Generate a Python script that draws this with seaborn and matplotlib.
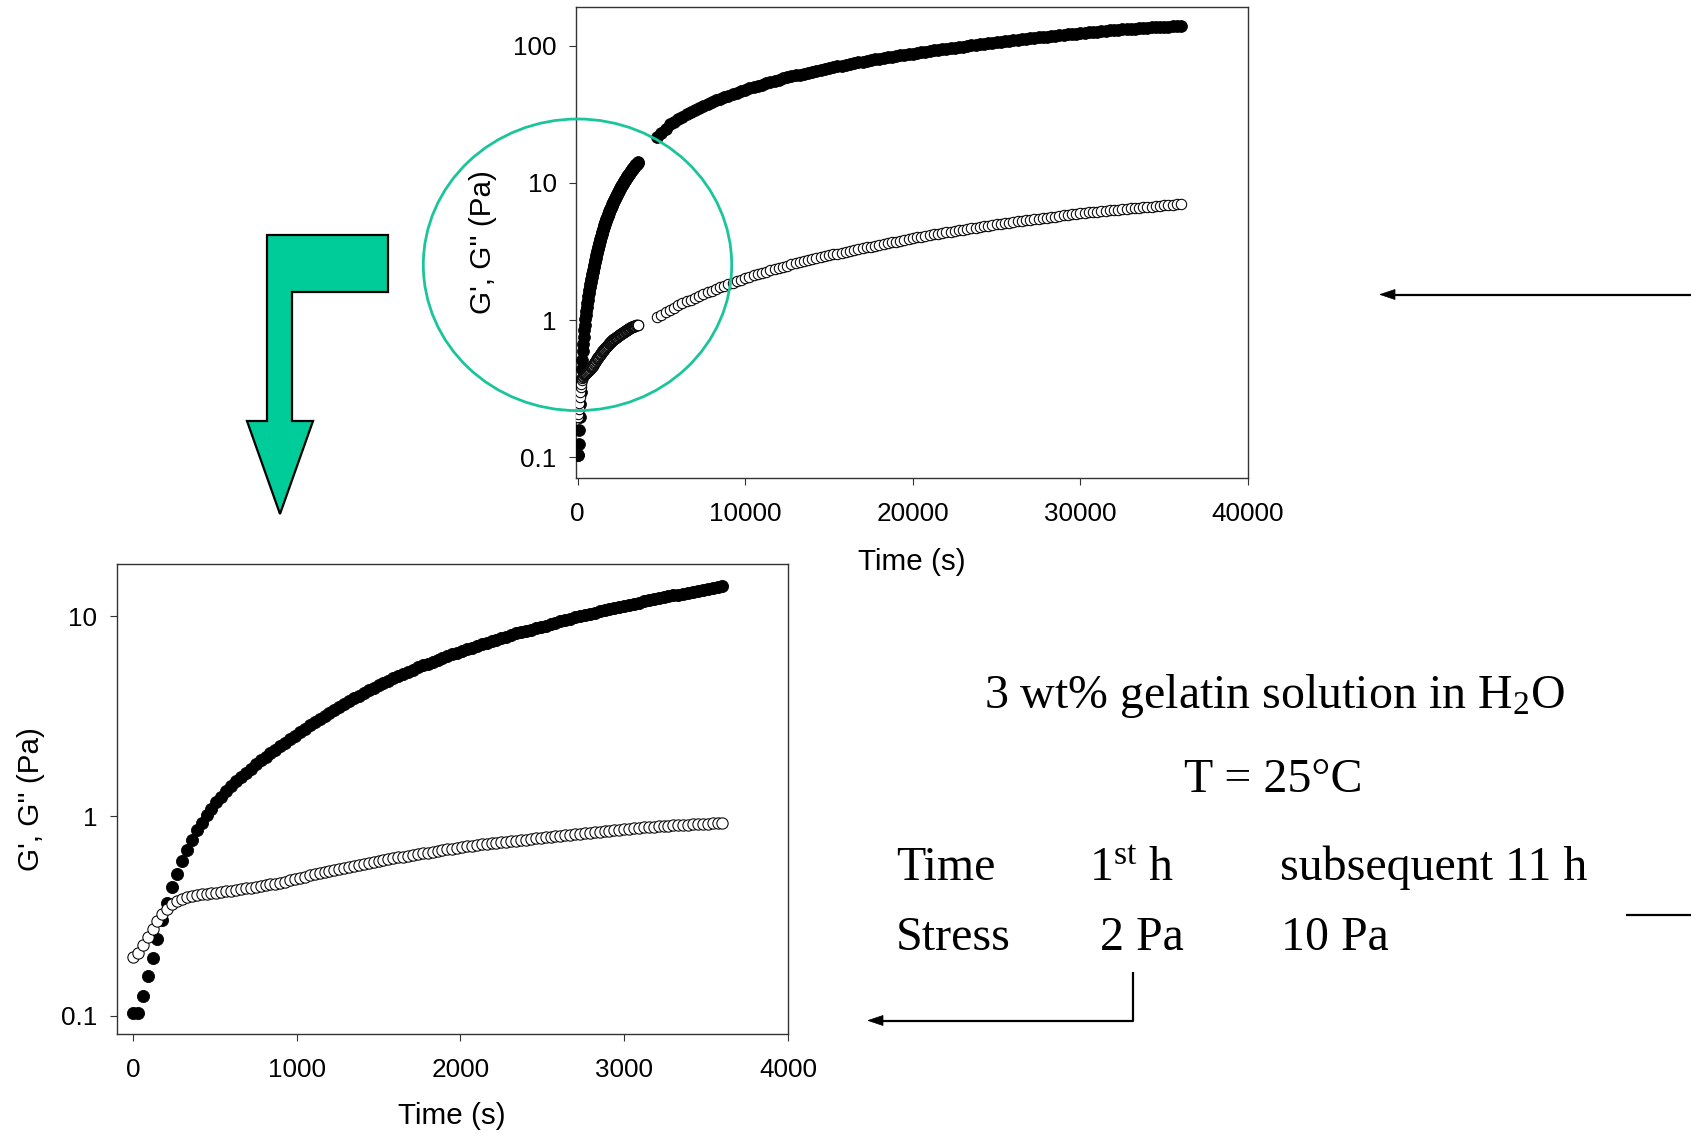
import matplotlib
matplotlib.use("Agg")
import matplotlib.pyplot as plt
import pandas as pd
import seaborn as sns
from matplotlib.patches import Ellipse, Polygon
from matplotlib.lines import Line2D
from matplotlib.ticker import FixedLocator, FixedFormatter, NullLocator

# ---------------- data ----------------
# first hour (stress 2 Pa)
time_first = [
    0, 30, 60, 90, 120, 150, 180, 210, 240, 270,
    300, 330, 360, 390, 420, 450, 480, 510, 540, 570,
    600, 630, 660, 690, 720, 750, 780, 810, 840, 870,
    900, 930, 960, 990, 1020, 1050, 1080, 1110, 1140, 1170,
    1200, 1230, 1260, 1290, 1320, 1350, 1380, 1410, 1440, 1470,
    1500, 1530, 1560, 1590, 1620, 1650, 1680, 1710, 1740, 1770,
    1800, 1830, 1860, 1890, 1920, 1950, 1980, 2010, 2040, 2070,
    2100, 2130, 2160, 2190, 2220, 2250, 2280, 2310, 2340, 2370,
    2400, 2430, 2460, 2490, 2520, 2550, 2580, 2610, 2640, 2670,
    2700, 2730, 2760, 2790, 2820, 2850, 2880, 2910, 2940, 2970,
    3000, 3030, 3060, 3090, 3120, 3150, 3180, 3210, 3240, 3270,
    3300, 3330, 3360, 3390, 3420, 3450, 3480, 3510, 3540, 3570,
    3600]
g_storage_first = [
    0.103, 0.103, 0.125, 0.158, 0.195, 0.243, 0.300, 0.368, 0.441, 0.510,
    0.595, 0.673, 0.756, 0.848, 0.927, 1.01, 1.09, 1.17, 1.25, 1.33,
    1.41, 1.49, 1.57, 1.65, 1.73, 1.82, 1.90, 1.98, 2.07, 2.15,
    2.24,
    2.33, 2.43, 2.53, 2.63, 2.74, 2.85,
    2.96, 3.07, 3.18, 3.29, 3.40, 3.53, 3.66,
    3.78, 3.89, 4.01, 4.13, 4.26, 4.40, 4.53,
    4.65, 4.76, 4.90, 5.02, 5.15, 5.28, 5.42,
    5.55, 5.68, 5.78, 5.93, 6.07, 6.21,
    6.35, 6.47, 6.59, 6.71, 6.84, 6.97, 7.11,
    7.24, 7.38, 7.52, 7.66, 7.78, 7.93, 8.07,
    8.22, 8.34, 8.47, 8.59, 8.73, 8.87, 8.99,
    9.14, 9.29, 9.44, 9.59, 9.73, 9.89, 10.05,
    10.19, 10.30, 10.45, 10.59, 10.72, 10.86,
    11.02, 11.17, 11.30, 11.43, 11.59, 11.72, 11.89,
    12.02, 12.16, 12.30, 12.45, 12.59, 12.74, 12.85,
    13.00, 13.12, 13.27, 13.43, 13.55, 13.71, 13.84, 14.00, 14.16]
g_loss_first = [
    0.196, 0.207, 0.225, 0.247, 0.273, 0.298, 0.325, 0.343, 0.363, 0.376,
    0.385, 0.392, 0.397, 0.402, 0.406, 0.408, 0.411, 0.414, 0.417, 0.420,
    0.423, 0.426, 0.430, 0.434, 0.438, 0.442, 0.447, 0.451, 0.455, 0.459,
    0.463,
    0.470, 0.478, 0.484, 0.491, 0.498, 0.505, 0.512, 0.519, 0.525, 0.531,
    0.538, 0.545, 0.551, 0.557, 0.564, 0.570, 0.577, 0.583, 0.590, 0.597,
    0.604, 0.610, 0.615, 0.621, 0.627, 0.632, 0.638, 0.644, 0.650, 0.656,
    0.662, 0.668, 0.675, 0.681, 0.687, 0.693, 0.698, 0.705, 0.711, 0.716,
    0.723, 0.726, 0.731, 0.735, 0.740, 0.743, 0.748, 0.752, 0.757, 0.762,
    0.767, 0.773, 0.778, 0.783, 0.789, 0.793, 0.798, 0.802, 0.805, 0.811,
    0.815, 0.818, 0.824, 0.828, 0.834, 0.838, 0.843, 0.847, 0.853, 0.857,
    0.863, 0.867, 0.873, 0.877, 0.881, 0.885, 0.887, 0.891, 0.893, 0.897,
    0.900, 0.904, 0.906, 0.908, 0.912, 0.914, 0.916, 0.920, 0.923, 0.927]

# subsequent 11 h (stress 10 Pa)
time_later = [
    4750, 5000, 5250, 5500, 5750, 6000, 6250, 6500, 6750, 7000,
    7250, 7500, 7750, 8000, 8250, 8500, 8750, 9000, 9250, 9500,
    9750, 10000, 10250, 10500, 10750, 11000, 11250, 11500, 11750, 12000,
    12250, 12500, 12750, 13000, 13250, 13500, 13750, 14000, 14250, 14500,
    14750, 15000, 15250, 15500, 15750, 16000, 16250, 16500, 16750, 17000,
    17250, 17500, 17750, 18000, 18250, 18500, 18750, 19000, 19250, 19500,
    19750, 20000, 20250, 20500, 20750, 21000, 21250, 21500, 21750, 22000,
    22250, 22500, 22750, 23000, 23250, 23500, 23750, 24000, 24250, 24500,
    24750, 25000, 25250, 25500, 25750, 26000, 26250, 26500, 26750, 27000,
    27250, 27500, 27750, 28000, 28250, 28500, 28750, 29000, 29250, 29500,
    29750, 30000, 30250, 30500, 30750, 31000, 31250, 31500, 31750, 32000,
    32250, 32500, 32750, 33000, 33250, 33500, 33750, 34000, 34250, 34500,
    34750, 35000, 35250, 35500, 35750, 36000]
g_storage_later = [
    21.6, 23.2, 24.8, 26.7, 28.0, 29.2, 30.5, 31.7, 32.9, 34.0,
    35.3, 36.5, 37.6, 38.8, 40.0, 41.1, 42.2, 43.3, 44.3, 45.4,
    46.6, 47.8, 49.0, 50.1, 51.2, 52.2, 53.3, 54.3, 55.5, 56.6,
    57.8, 58.9, 59.8, 60.8, 61.8, 62.8, 63.8, 64.9, 65.9, 66.8,
    67.8, 68.9, 69.8, 70.8, 71.8, 72.8, 73.8, 74.8, 75.7, 76.7,
    77.6, 78.7, 79.6, 80.5, 81.7, 82.4, 83.4, 84.3, 85.1, 86.1,
    87.1, 87.9, 88.9, 89.7, 90.8, 91.6, 92.5, 93.3, 94.4, 95.3,
    96.2, 97.1, 97.9, 98.9, 99.8, 100.7, 101.6, 102.6, 103.5, 104.5,
    105.4, 106.2, 107.2, 108.1, 108.9, 109.9, 110.9, 111.7, 112.5, 113.5,
    114.3, 115.3, 116.1, 116.9, 118.0, 118.9, 119.7, 120.5, 121.3, 122.2,
    123.0, 123.9, 124.7, 125.3, 126.2, 127.1, 127.9, 128.8, 129.4, 130.3,
    131.2, 131.8, 132.4, 133.0, 133.7, 134.3, 134.9, 135.5, 136.1, 136.5,
    137.1, 137.7, 138.0, 138.7, 139.0, 139.6]
g_loss_later = [
    1.05, 1.09, 1.14, 1.18, 1.23, 1.28, 1.33, 1.37, 1.41, 1.46,
    1.50, 1.54, 1.59, 1.64, 1.69, 1.73, 1.78, 1.82, 1.87, 1.92,
    1.97, 2.02, 2.07, 2.12, 2.16, 2.21, 2.25, 2.31, 2.36, 2.40,
    2.45, 2.50, 2.55, 2.59, 2.64, 2.69, 2.73, 2.78, 2.83, 2.88,
    2.92, 2.96, 3.01, 3.05, 3.10, 3.16, 3.20, 3.25, 3.30, 3.34,
    3.39, 3.44, 3.48, 3.54, 3.59, 3.64, 3.69, 3.74, 3.79, 3.85,
    3.91, 3.96, 4.02, 4.06, 4.11, 4.17, 4.22, 4.27, 4.32, 4.37,
    4.42, 4.47, 4.52, 4.57, 4.62, 4.68, 4.73, 4.79, 4.84, 4.89,
    4.93, 4.98, 5.04, 5.08, 5.13, 5.18, 5.24, 5.28, 5.33, 5.38,
    5.43, 5.48, 5.53, 5.58, 5.64, 5.69, 5.74, 5.79, 5.83, 5.89,
    5.94, 6.00, 6.05, 6.10, 6.14, 6.18, 6.22, 6.27, 6.31, 6.35,
    6.40, 6.44, 6.47, 6.52, 6.56, 6.59, 6.64, 6.67, 6.71, 6.76,
    6.81, 6.85, 6.90, 6.95, 7.00, 7.05]

top_xticks = [0, 10000, 20000, 30000, 40000]
top_yticks = [0.1, 1, 10, 100]
top_ytick_labels = ["0.1", "1", "10", "100"]
bottom_xticks = [0, 1000, 2000, 3000, 4000]
bottom_yticks = [0.1, 1, 10]
bottom_ytick_labels = ["0.1", "1", "10"]
x_label = "Time (s)"
y_label = "G', G'' (Pa)"

# ---------------- style ----------------
sns.set_style("ticks")
plt.rcParams["font.family"] = ["Liberation Sans", "DejaVu Sans"]
plt.rcParams["text.color"] = "black"
plt.rcParams["axes.labelcolor"] = "black"
plt.rcParams["mathtext.fontset"] = "custom"
plt.rcParams["mathtext.rm"] = "Liberation Serif"
plt.rcParams["mathtext.it"] = "Liberation Serif:italic"

W, H = 1691, 1134
fig = plt.figure(figsize=(W / 100, H / 100), dpi=100)
fig.patch.set_facecolor("white")


def fx(x):
    return x / W


def fy(y):
    return 1 - y / H


df_first = pd.DataFrame({"t": time_first, "Gp": g_storage_first, "Gpp": g_loss_first})
df_later = pd.DataFrame({"t": time_later, "Gp": g_storage_later, "Gpp": g_loss_later})
df_all = pd.concat([df_first, df_later], ignore_index=True)

spine_col = "#333333"


def style_axes(ax, xlim, ylim, xticks, yticks, ylabels, xlab_pos, ylab_pos):
    ax.set_yscale("log")
    ax.set_xlim(*xlim)
    ax.set_ylim(*ylim)
    ax.xaxis.set_major_locator(FixedLocator(xticks))
    ax.xaxis.set_major_formatter(FixedFormatter([str(v) for v in xticks]))
    ax.yaxis.set_major_locator(FixedLocator(yticks))
    ax.yaxis.set_major_formatter(FixedFormatter(ylabels))
    ax.xaxis.set_minor_locator(NullLocator())
    ax.yaxis.set_minor_locator(NullLocator())
    for s in ax.spines.values():
        s.set_visible(True)
        s.set_color(spine_col)
        s.set_linewidth(1.0)
    ax.tick_params(axis="both", which="major", direction="out", length=5,
                   width=0.8, color=spine_col, labelsize=18.8, labelcolor="black",
                   top=False, right=False, bottom=True, left=True)
    ax.tick_params(axis="x", pad=12)
    ax.tick_params(axis="y", pad=9)
    ax.set_xlabel(x_label, fontsize=21.3, color="black")
    ax.set_ylabel(y_label, fontsize=21.3, color="black")
    ax.xaxis.set_label_coords(*xlab_pos)
    ax.yaxis.set_label_coords(*ylab_pos)
    ax.set_facecolor("white")


# ---------------- top chart (12 h) ----------------
ax_top = fig.add_axes([fx(576), fy(478), (1248 - 576) / W, (478 - 7) / H])
sns.scatterplot(data=df_all, x="t", y="Gp", ax=ax_top, color="black",
                edgecolor="black", s=72, linewidth=0.6, legend=False, zorder=3)
sns.scatterplot(data=df_all, x="t", y="Gpp", ax=ax_top, color="white",
                edgecolor="black", s=56, linewidth=0.75, legend=False, zorder=4)
style_axes(ax_top, (-100, 40000), (0.0705, 192), top_xticks, top_yticks,
           top_ytick_labels, (0.5, -0.148), (-0.1175, 0.5))

# ---------------- bottom chart (first hour) ----------------
ax_bot = fig.add_axes([fx(116.5), fy(1034), (788 - 116.5) / W, (1034 - 564) / H])
sns.scatterplot(data=df_first, x="t", y="Gp", ax=ax_bot, color="black",
                edgecolor="black", s=76, linewidth=0.6, legend=False, zorder=3)
sns.scatterplot(data=df_first, x="t", y="Gpp", ax=ax_bot, color="white",
                edgecolor="black", s=66, linewidth=0.75, legend=False, zorder=4)
style_axes(ax_bot, (-100, 4000), (0.081, 18.3), bottom_xticks, bottom_yticks,
           bottom_ytick_labels, (0.5, -0.145), (-0.1065, 0.5))

# ---------------- decorations ----------------
green = "#00CC99"
circle_col = "#1BC59B"
ell = Ellipse((fx(577.5), fy(264.8)), width=308.4 / W, height=291.6 / H,
              transform=fig.transFigure, fill=False, edgecolor=circle_col,
              linewidth=2.0, zorder=10)
fig.patches.append(ell)

l_arrow = [(267, 235), (388, 235), (388, 292), (292, 292), (292, 421),
           (313, 421), (280, 514), (247, 421), (267, 421)]
poly = Polygon([(fx(x), fy(y)) for x, y in l_arrow], closed=True,
               transform=fig.transFigure, facecolor=green, edgecolor="black",
               linewidth=1.6, zorder=10)
fig.patches.append(poly)


def fig_line(pts, lw=1.6):
    fig.lines.append(Line2D([fx(p[0]) for p in pts], [fy(p[1]) for p in pts],
                            transform=fig.transFigure, color="black",
                            linewidth=lw, solid_capstyle="butt", zorder=10))


def left_head(tipx, y, length=15, half=5):
    pts = [(tipx, y), (tipx + length, y - half), (tipx + length, y + half)]
    fig.patches.append(Polygon([(fx(a), fy(b)) for a, b in pts], closed=True,
                               transform=fig.transFigure, facecolor="black",
                               edgecolor="black", linewidth=0.5, zorder=11))


# arrow pointing at the top chart
fig_line([(1392, 294.5), (1691, 294.5)])
left_head(1380, 294.5)
# arrow from "2 Pa" to the bottom chart
fig_line([(1132.5, 972), (1132.5, 1020.5), (880, 1020.5)])
left_head(868, 1020.5)
# stub at right edge
fig_line([(1626, 914.5), (1691, 914.5)])

# ---------------- annotation text ----------------
serif = ["Liberation Serif", "DejaVu Serif"]
ts = 34.5
fig.text(fx(1274), fy(708), r"3 wt% gelatin solution in H$_{\mathrm{2}}$O",
         ha="center", va="baseline", fontsize=ts, family=serif, color="black")
fig.text(fx(1273), fy(792), "T = 25\u00b0C", ha="center", va="baseline",
         fontsize=ts, family=serif, color="black")
fig.text(fx(896), fy(880), "Time", ha="left", va="baseline", fontsize=ts,
         family=serif, color="black")
fig.text(fx(1089), fy(880), r"1$^{\mathrm{st}}$ h", ha="left", va="baseline",
         fontsize=ts, family=serif, color="black")
fig.text(fx(1280), fy(880), "subsequent 11 h", ha="left", va="baseline",
         fontsize=ts, family=serif, color="black")
fig.text(fx(896), fy(950), "Stress", ha="left", va="baseline", fontsize=ts,
         family=serif, color="black")
fig.text(fx(1100), fy(950), "2 Pa", ha="left", va="baseline", fontsize=ts,
         family=serif, color="black")
fig.text(fx(1281), fy(950), "10 Pa", ha="left", va="baseline", fontsize=ts,
         family=serif, color="black")

fig.savefig("out.png", dpi=100, facecolor="white")
